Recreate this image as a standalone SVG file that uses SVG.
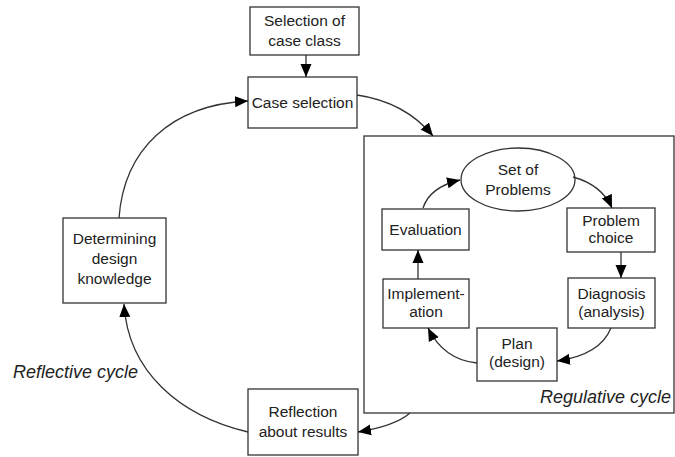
<svg xmlns="http://www.w3.org/2000/svg" width="675" height="457" viewBox="0 0 675 457">
  <style>
    .box { fill: #fff; stroke: #333; stroke-width: 1.3; }
    .lbl { font-family: "Liberation Sans", Arial, sans-serif; font-size: 15.5px; fill: #222; text-anchor: middle; }
    .cap { font-family: "Liberation Sans", Arial, sans-serif; font-size: 18px; font-style: italic; fill: #222; }
    .edge { fill: none; stroke: #333; stroke-width: 1.3; marker-end: url(#arrow); }
  </style>
  <defs>
    <marker id="arrow" markerUnits="userSpaceOnUse" markerWidth="14" markerHeight="14" viewBox="0 0 14 14" refX="13" refY="7" orient="auto">
      <path d="M0,1.5 L13,7 L0,12.5 Z" fill="#000"/>
    </marker>
  </defs>
  <rect width="675" height="457" fill="#fff"/>

  <!-- outer reflective cycle -->
  <g id="selection-of-case-class">
    <rect class="box" x="250" y="7" width="109" height="48"/>
    <text class="lbl" x="304.5" y="26">Selection of</text>
    <text class="lbl" x="304.5" y="46">case class</text>
  </g>
  <g id="case-selection">
    <rect class="box" x="248" y="77" width="109" height="51"/>
    <text class="lbl" x="302.5" y="107.5">Case selection</text>
  </g>
  <g id="regulative-cycle">
    <rect class="box" x="364" y="136" width="310" height="277"/>
    <text class="cap" x="671" y="403" text-anchor="end">Regulative cycle</text>
  </g>
  <g id="reflection-about-results">
    <rect class="box" x="248" y="389" width="110" height="66"/>
    <text class="lbl" x="303" y="417">Reflection</text>
    <text class="lbl" x="303" y="437">about results</text>
  </g>
  <g id="determining-design-knowledge">
    <rect class="box" x="63" y="218" width="103" height="85"/>
    <text class="lbl" x="114.5" y="244">Determining</text>
    <text class="lbl" x="114.5" y="264">design</text>
    <text class="lbl" x="114.5" y="284">knowledge</text>
  </g>
  <text class="cap" x="13" y="378">Reflective cycle</text>

  <!-- inner regulative cycle -->
  <g id="set-of-problems">
    <ellipse class="box" cx="518" cy="179.5" rx="57" ry="31.5"/>
    <text class="lbl" x="518" y="175">Set of</text>
    <text class="lbl" x="518" y="195">Problems</text>
  </g>
  <g id="problem-choice">
    <rect class="box" x="567" y="208" width="88" height="44"/>
    <text class="lbl" x="611" y="226">Problem</text>
    <text class="lbl" x="611" y="243">choice</text>
  </g>
  <g id="diagnosis">
    <rect class="box" x="568" y="278" width="87" height="50"/>
    <text class="lbl" x="611.5" y="299">Diagnosis</text>
    <text class="lbl" x="611.5" y="317">(analysis)</text>
  </g>
  <g id="plan">
    <rect class="box" x="477" y="328" width="80" height="53"/>
    <text class="lbl" x="517" y="349">Plan</text>
    <text class="lbl" x="517" y="367">(design)</text>
  </g>
  <g id="implementation">
    <rect class="box" x="383" y="279" width="86" height="49"/>
    <text class="lbl" x="426" y="299">Implement-</text>
    <text class="lbl" x="426" y="317">ation</text>
  </g>
  <g id="evaluation">
    <rect class="box" x="382" y="209" width="87" height="41"/>
    <text class="lbl" x="425.5" y="235">Evaluation</text>
  </g>

  <g id="connectors">
    <path class="edge" d="M306,55 L306,77"/>
    <path class="edge" d="M357,95 Q405,102 433,136"/>
    <path class="edge" d="M410,413 Q395,426 358,432"/>
    <path class="edge" d="M248,432 C180,416 128,372 124,304"/>
    <path class="edge" d="M119,218 C124,150 170,105 248,101"/>
    <path class="edge" d="M423,208 Q430,187 460,180"/>
    <path class="edge" d="M573,177 Q602,185 612,208"/>
    <path class="edge" d="M621,252 L621,278"/>
    <path class="edge" d="M611,328 Q600,355 557,361"/>
    <path class="edge" d="M477,363 Q444,360 428,328"/>
    <path class="edge" d="M418,279 L418,250"/>
  </g>
</svg>
